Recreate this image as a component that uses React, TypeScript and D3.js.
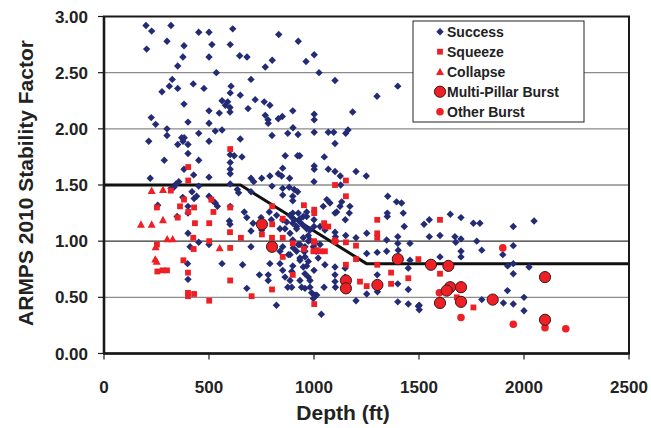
import React from "react";
import * as d3 from "d3";

// ---- data (depth ft, ARMPS 2010 stability factor) ----
const success: [number, number][] = [
  [200,2.92],[227,2.87],[319,2.92],[451,2.86],[500,2.86],[613,2.89],[832,2.84],[925,2.78],[203,2.71],[300,2.78],
  [381,2.74],[514,2.75],[601,2.75],[376,2.64],[500,2.64],[646,2.65],[681,2.64],[801,2.61],[768,2.55],[962,2.60],
  [1001,2.66],[351,2.56],[535,2.50],[1024,2.50],[325,2.44],[311,2.38],[276,2.33],[351,2.36],[425,2.40],[476,2.36],
  [605,2.38],[601,2.32],[700,2.44],[649,2.30],[562,2.25],[578,2.21],[589,2.24],[600,2.19],[600,2.15],[720,2.26],
  [686,2.18],[763,2.24],[790,2.21],[381,2.22],[500,2.16],[549,2.14],[768,2.12],[781,2.08],[782,2.05],[830,2.09],
  [849,2.11],[899,2.16],[1001,2.13],[1001,2.08],[225,2.10],[246,2.04],[400,2.06],[500,2.05],[530,1.98],[562,1.99],
  [300,2.00],[300,1.94],[370,1.92],[382,1.92],[376,1.89],[351,1.86],[400,1.86],[451,1.96],[500,1.89],[649,1.91],
  [800,1.94],[875,1.96],[900,2.01],[924,1.95],[1001,1.97],[213,1.89],[400,1.78],[287,1.72],[451,1.72],[601,1.77],
  [620,1.76],[657,1.75],[863,1.76],[922,1.76],[932,1.76],[1001,1.67],[1001,1.64],[851,1.65],[601,1.70],[601,1.64],
  [601,1.60],[381,1.64],[427,1.59],[220,1.56],[500,1.57],[700,1.56],[713,1.53],[751,1.56],[790,1.58],[830,1.60],
  [846,1.58],[884,1.56],[356,1.53],[343,1.51],[451,1.49],[601,1.51],
  [1100,2.43],[1399,2.38],[1300,2.29],[1184,2.15],[1068,1.97],[1094,1.97],[1151,1.96],[1162,1.99],[1100,1.87],
  [1049,1.75],[1068,1.64],[1100,1.62],[1125,1.58],[1200,1.62],[1249,1.58],[1000,1.53],[1127,1.50],
  [800,1.49],[851,1.47],[882,1.48],[906,1.46],[922,1.44],[851,1.41],[899,1.40],[899,1.36],[333,1.48],[319,1.47],
  [419,1.44],[441,1.40],[429,1.38],[375,1.39],[500,1.40],[518,1.36],[530,1.34],[540,1.31],[601,1.31],[635,1.46],
  [641,1.43],[700,1.44],[400,1.31],[256,1.32],[400,1.25],[348,1.22],[668,1.26],[680,1.21],[710,1.16],[748,1.21],
  [787,1.26],[797,1.19],[851,1.19],[899,1.25],[925,1.25],[899,1.16],[906,1.19],[933,1.20],[965,1.22],[597,1.18],
  [600,1.15],[700,1.09],[751,1.10],[700,0.95],[851,0.95],[899,1.01],[933,0.97],[951,0.91],[957,0.86],[973,0.82],
  [965,0.78],[997,0.95],[1010,0.91],[1020,0.85],[400,1.07],[451,0.99],[500,0.97],[410,0.95],[398,0.80],[562,0.80],
  [660,0.79],[790,0.80],[838,0.80],[851,0.74],[862,0.68],[886,0.65],[899,0.78],[894,0.73],[782,0.70],[782,0.65],
  [740,0.70],[933,0.65],[941,0.59],[957,0.58],[989,0.54],[1005,0.52],[875,0.59],[894,0.59],[973,0.68],[981,0.65],
  [400,0.66],[680,0.58],[821,0.43],[1035,0.35],[997,0.49],
  [1351,1.40],[1393,1.35],[1417,1.34],[1349,1.25],[1349,1.22],[1425,1.25],[1430,1.13],[1251,1.07],[1200,1.03],
  [1151,1.05],[1100,1.08],[1102,1.04],[1149,1.19],[1124,1.31],[1108,1.26],[1132,1.35],[1061,1.37],[1076,1.34],
  [1044,1.31],[1171,1.31],[1168,1.25],[1100,1.25],[965,1.26],[949,1.22],[933,1.17],[1000,1.19],[1000,1.13],
  [981,1.10],[1029,1.13],[1052,1.10],[949,1.03],[973,1.00],[957,0.95],[1005,0.98],[1029,0.97],[1052,0.79],
  [1000,0.74],[933,0.83],[949,0.77],[957,0.71],[981,0.59],[1013,0.52],[1100,0.77],[1100,0.70],[1100,0.64],
  [1102,0.59],[1148,0.76],[1148,0.68],[1048,0.59],[1200,0.47],[1251,0.53],[1301,0.90],[1301,0.70],[1346,0.91],
  [1399,1.04],[1399,0.98],[1401,0.92],[1457,0.98],[1449,0.76],[1399,0.62],[1449,0.57],[1399,0.46],[1449,0.44],
  [1497,0.42],[1302,0.55],[1457,0.83],
  [1524,1.15],[1549,1.19],[1649,1.24],[1700,1.21],[1759,1.16],[1790,1.16],[1949,1.13],[2048,1.18],[1549,1.04],
  [1600,1.05],[1671,1.04],[1700,1.02],[1675,0.99],[1775,1.00],[1799,0.92],[1700,0.91],[1700,0.86],[1600,0.86],
  [1949,0.96],[1899,0.88],[1922,0.78],[1949,0.80],[1949,0.71],[2024,0.77],[1501,0.43],[1501,0.39],[1799,0.48],
  [1902,0.45],[1949,0.44],[1921,0.56],[2000,0.50],[2000,0.38],
  [822,1.23],[838,1.11],[870,1.17],[862,1.11],[886,1.07],[917,1.13],[838,0.91],[878,0.88],[917,0.91],[925,0.97],
  [1346,1.01],[1251,0.89],[885,1.23],[901,1.20],[917,1.11],[949,1.14],[965,1.11],[973,1.05],[981,1.01],[901,0.94],
  [886,0.88],[933,0.85],[957,0.91],
];

const squeeze: [number, number][] = [
  [601,1.82],[401,1.66],[401,1.54],[1100,1.50],[1152,1.54],
  [318,1.45],[252,1.30],[362,1.31],[381,1.37],[429,1.30],[401,1.26],[351,1.21],[433,1.16],[501,1.16],[511,1.37],
  [521,1.26],[601,1.30],[600,1.08],[425,1.03],[501,1.00],[652,1.03],[252,0.97],[427,0.93],[601,0.94],[801,1.31],
  [801,1.15],[851,1.20],[752,1.06],[800,1.03],[851,1.03],[899,0.98],[952,1.32],[1001,1.28],[1001,1.25],[1001,0.99],
  [952,0.93],[997,0.91],[851,0.86],[378,0.83],[300,0.74],[279,0.74],[254,0.73],[400,0.72],[400,0.54],[429,0.53],
  [400,0.51],[601,0.65],[800,0.57],[703,0.51],[501,0.47],[899,0.70],[1001,0.44],
  [1152,1.40],[1048,1.16],[1052,1.13],[1068,1.13],[1000,1.00],[1013,0.92],[1029,0.91],[1052,0.91],[1152,0.99],
  [1200,0.96],[1200,0.84],[1301,1.19],[1301,1.07],[1301,1.03],[1301,0.79],[1152,0.79],[1219,0.64],[1251,0.60],
  [1367,0.72],[1367,0.62],[1449,0.67],[1497,0.84],
  [1600,1.19],[1600,0.71],[1759,0.41],[1680,0.50],
];

const collapse: [number, number][] = [
  [227,1.45],[281,1.46],[176,1.15],[227,1.15],[281,1.19],[301,1.02],[327,1.02],[246,0.95],[244,0.84],[251,0.82],[551,0.94],
];

const multiPillarBurst: [number, number][] = [
  [752,1.15],[800,0.95],[1152,0.65],[1152,0.58],[1302,0.61],[1399,0.84],[1557,0.79],[1640,0.78],[1648,0.59],
  [1632,0.56],[1700,0.59],[1600,0.45],[1700,0.46],[1851,0.48],[2100,0.68],[2100,0.30],
];

const otherBurst: [number, number][] = [
  [1100,1.00],[1899,0.94],[1597,0.54],[1700,0.32],[1949,0.26],[2100,0.23],[2199,0.22],
];

// ARMPS 2010 guideline line
const guideline: [number, number][] = [[0,1.5],[650,1.5],[1250,0.8],[2500,0.8]];

const xTicks = [0, 500, 1000, 1500, 2000, 2500];
const yTicks = [0, 0.5, 1, 1.5, 2, 2.5, 3];
const legendItems = ["Success", "Squeeze", "Collapse", "Multi-Pillar Burst", "Other Burst"];

const BLUE = "#232B74";
const RED = "#EE1F25";
const FONT = "'Liberation Sans', Arial, Helvetica, sans-serif";

const W = 651, H = 428;
const L = 104, R = 629, T = 16.5, B = 353.5;

const diamond = (r: number) => `M0,${-r}L${r},0L0,${r}L${-r},0Z`;
const square = (r: number) => `M${-r},${-r}H${r}V${r}H${-r}Z`;
const triangle = (r: number) => `M0,${-r}L${r},${r * 0.85}L${-r},${r * 0.85}Z`;

function Marker({ kind, x, y }: { kind: number; x: number; y: number }) {
  const t = `translate(${x},${y})`;
  if (kind === 0) return <path d={diamond(3.7)} transform={t} fill={BLUE} />;
  if (kind === 1) return <path d={square(2.9)} transform={t} fill={RED} />;
  if (kind === 2) return <path d={triangle(4)} transform={t} fill={RED} />;
  if (kind === 3) return <circle cx={x} cy={y} r={5.6} fill={RED} stroke="#3a1a1a" strokeWidth={1} />;
  return <circle cx={x} cy={y} r={3.8} fill={RED} />;
}

export default function App() {
  const x = d3.scaleLinear().domain([0, 2500]).range([L, R]);
  const y = d3.scaleLinear().domain([0, 3]).range([B, T]);
  const line = d3.line<[number, number]>().x((d) => x(d[0])).y((d) => y(d[1]));
  const fmt = d3.format(".2f");

  return (
    <div style={{ position: "fixed", left: 0, top: 0 }}>
      <svg width={W} height={H} style={{ display: "block", background: "#fff" }} fontFamily={FONT}>
        {/* gridlines */}
        {yTicks.filter((v) => v > 0 && v < 3).map((v) => (
          <line key={v} x1={L} x2={R} y1={y(v)} y2={y(v)}
            stroke={v === 1 ? "#333" : "#8c8c8c"} strokeWidth={v === 1 ? 1.1 : 1.4} />
        ))}
        {/* guideline */}
        <path d={line(guideline) || ""} fill="none" stroke="#111" strokeWidth={3} />
        {/* points */}
        {success.map((d, i) => <Marker key={"s" + i} kind={0} x={x(d[0])} y={y(d[1])} />)}
        {squeeze.map((d, i) => <Marker key={"q" + i} kind={1} x={x(d[0])} y={y(d[1])} />)}
        {collapse.map((d, i) => <Marker key={"c" + i} kind={2} x={x(d[0])} y={y(d[1])} />)}
        {otherBurst.map((d, i) => <Marker key={"o" + i} kind={4} x={x(d[0])} y={y(d[1])} />)}
        {multiPillarBurst.map((d, i) => <Marker key={"m" + i} kind={3} x={x(d[0])} y={y(d[1])} />)}
        {/* frame */}
        <rect x={L} y={T} width={R - L} height={B - T} fill="none" stroke="#1a1a1a" strokeWidth={2} />
        <line x1={L} x2={L} y1={T} y2={B} stroke="#1a1a1a" strokeWidth={2.6} />
        <line x1={L} x2={R} y1={B} y2={B} stroke="#1a1a1a" strokeWidth={2.6} />
        {/* y axis */}
        {yTicks.map((v) => (
          <g key={v}>
            <line x1={L - 6} x2={L} y1={y(v)} y2={y(v)} stroke="#1a1a1a" strokeWidth={1.2} />
            <text x={88} y={y(v)} dy="0.36em" textAnchor="end" fontSize={17} fontWeight="bold" fill="#222">{fmt(v)}</text>
          </g>
        ))}
        {/* x axis */}
        {xTicks.map((v) => (
          <g key={v}>
            <line x1={x(v)} x2={x(v)} y1={B} y2={B + 6} stroke="#1a1a1a" strokeWidth={1.2} />
            <text x={x(v)} y={393} textAnchor="middle" fontSize={17} fontWeight="bold" fill="#222">{v}</text>
          </g>
        ))}
        <text x={343} y={420} textAnchor="middle" fontSize={21} fontWeight="bold" fill="#222">Depth (ft)</text>
        <text transform={`translate(33,${183}) rotate(-90)`} textAnchor="middle" fontSize={21} fontWeight="bold" fill="#222">
          ARMPS 2010 Stability Factor
        </text>
        {/* legend */}
        <rect x={413} y={21} width={171} height={101} fill="#fff" stroke="#222" strokeWidth={1} />
        {legendItems.map((name, i) => {
          const cy = 31.7 + i * 20;
          return (
            <g key={name}>
              <Marker kind={i} x={440} y={cy} />
              <text x={447} y={cy} dy="0.36em" fontSize={14} fontWeight="bold" fill="#222">{name}</text>
            </g>
          );
        })}
      </svg>
    </div>
  );
}
